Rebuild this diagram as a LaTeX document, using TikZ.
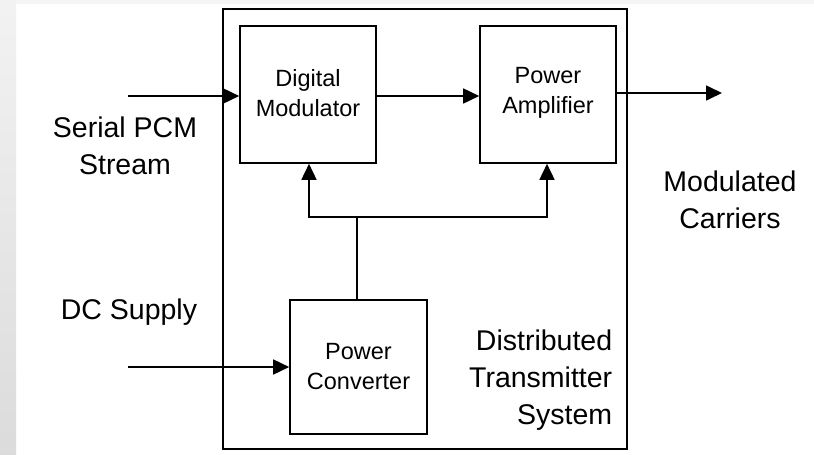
\documentclass[tikz,border=0pt]{standalone}
\usepackage{fontspec}
\setmainfont{Liberation Sans}
\usetikzlibrary{arrows.meta}
\begin{document}
\begin{tikzpicture}[x=1pt,y=-1pt,
  line width=1.6pt,
  blockbox/.style={draw=black,line width=1.6pt,inner sep=0pt},
  lbl/.style={font=\fontsize{28.5}{37}\selectfont,align=center,inner sep=0pt},
  inlbl/.style={font=\fontsize{23.5}{30}\selectfont,align=center,inner sep=0pt},
  flow/.style={-{Triangle[length=16pt,width=15pt]},line width=1.6pt}]
  % page and its light frame
  \useasboundingbox (0,0) rectangle (814,455);
  \fill[white] (0,0) rectangle (814,455);
  \fill[black!4] (0,0) rectangle (814,4);
  \shade[top color=black!5,bottom color=black!14,draw=none] (0,0) rectangle (16,455);

  % outer system boundary
  \draw[line width=1.6pt] (223,9) rectangle (627,449);

  % blocks
  \node[blockbox,minimum width=136pt,minimum height=137pt] (dm) at (308,94.5) {};
  \node[blockbox,minimum width=136pt,minimum height=137pt] (pa) at (548,94.5) {};
  \node[blockbox,minimum width=137pt,minimum height=134pt] (pc) at (358.5,367) {};

  \node[inlbl] (dmtxt) at (308,93) {Digital\\Modulator};
  \node[inlbl] (patxt) at (548,93) {Power\\Amplifier};
  \node[inlbl] (pctxt) at (358.5,367) {Power\\Converter};

  % external labels
  \node[lbl] (pcm) at (125,146) {Serial PCM\\Stream};
  \node[lbl] (dcs) at (129,312) {DC Supply};
  \node[lbl] (mod) at (730,200) {Modulated\\Carriers};
  \node[lbl,align=right,anchor=east] (dts) at (613,380) {Distributed\\Transmitter\\System};

  % connector end points
  \coordinate (pcmin) at (128,96);
  \coordinate (dcin) at (128,367);
  \coordinate (outend) at (722,93);
  \coordinate (split) at (357,217);
  \coordinate (tapdm) at (309,217);
  \coordinate (tappa) at (547,217);

  % signal flow
  \draw[flow] (pcmin) -- (dm.west |- pcmin);
  \draw[flow] (dm.east |- pcmin) -- (pa.west |- pcmin);
  \draw[flow] (pa.east |- outend) -- (outend);
  \draw[flow] (dcin) -- (pc.west |- dcin);

  % power distribution
  \draw (pc.north -| split) -- (split);
  \draw[flow] (split) -- (tapdm) -- (dm.south -| tapdm);
  \draw[flow] (split) -- (tappa) -- (pa.south -| tappa);
\end{tikzpicture}
\end{document}
